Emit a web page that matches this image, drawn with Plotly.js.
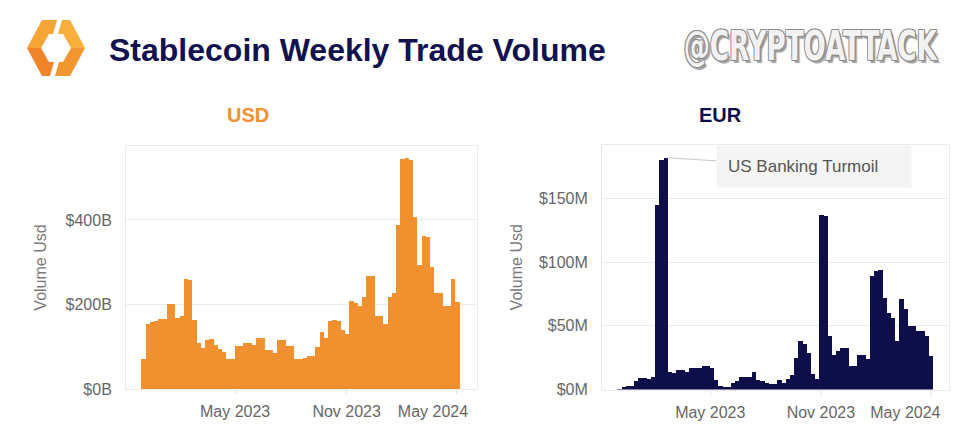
<!DOCTYPE html>
<html>
<head>
<meta charset="utf-8">
<script src="https://cdn.plot.ly/plotly-3.0.1.min.js"></script>
<style>html,body{margin:0;padding:0;background:#fff;}#chart{width:970px;height:439px;}</style>
</head>
<body>
<div id="chart"></div>
<script>
// ---- Data ----
const weekStart = '2022-12-01';           // centre of first weekly bar
const weekMs = 7 * 24 * 3600 * 1000;

// USD weekly trade volume, $B
const usdVolume = [
  70, 154, 158, 162, 165, 166, 200, 201, 167, 173,
  261, 258, 163, 110, 96, 117, 118, 104, 95, 88,
  72, 72, 101, 102, 110, 110, 105, 120, 120, 92,
  92, 86, 117, 117, 102, 101, 72, 72, 74, 77,
  77, 99, 135, 120, 161, 163, 160, 139, 131, 209,
  204, 196, 217, 267, 267, 173, 172, 155, 218, 226,
  389, 545, 547, 541, 408, 293, 362, 360, 288, 226,
  226, 196, 196, 260, 206
];

// EUR weekly trade volume, $M
const eurVolume = [
  0.5, 2, 2.5, 3, 6.6, 8.8, 8.8, 8, 10, 145,
  180, 182, 14, 13, 15, 15, 14, 16.5, 16.5, 16.5,
  18.7, 18.7, 16.5, 7.4, 2.6, 1.6, 1.6, 5, 7, 10,
  10, 10, 14, 7.4, 7, 5, 4.7, 4.7, 7.4, 5,
  8, 11, 25, 38, 36, 29, 12, 8, 137, 136,
  42, 27, 30, 32.5, 32.5, 18.8, 18.8, 27, 27, 23.8,
  89, 93, 94, 72, 60, 56, 38, 71, 63, 50,
  50, 46, 46, 42, 26.5
];

const xTickDates = ['2023-05-01', '2023-11-01', '2024-05-01'];
const xTickLabels = ['May 2023', 'Nov 2023', 'May 2024'];
const eventLabel = 'US Banking Turmoil';
const watermark = '@CRYPTOATTACK';

// ---- Styling ----
const FONT = 'Liberation Sans, Arial, Helvetica, sans-serif';
const ORANGE = '#f0902f';
const NAVY = '#0e0e4a';
const W = 970, H = 439;
const px = x => x / W;
const py = y => 1 - y / H;

const traces = [
  {type: 'bar', x0: weekStart, dx: weekMs, y: usdVolume, xaxis: 'x', yaxis: 'y',
   marker: {color: ORANGE, line: {width: 0}}, hoverinfo: 'skip'},
  {type: 'bar', x0: weekStart, dx: weekMs, y: eurVolume, xaxis: 'x2', yaxis: 'y2',
   marker: {color: NAVY, line: {width: 0}}, hoverinfo: 'skip'}
];

function xAxis(domain, range) {
  return {
    domain: domain, type: 'date', range: range,
    tickmode: 'array', tickvals: xTickDates, ticktext: xTickLabels,
    showgrid: false, zeroline: false,
    showline: true, mirror: true, linecolor: '#ebebeb', linewidth: 1,
    ticks: 'outside', ticklen: 4, tickcolor: '#e2e2e2',
    ticklabelstandoff: 4,
    tickfont: {family: FONT, size: 16, color: '#666'}
  };
}
function yAxis(domain, range, dtick, suffix, standoff) {
  return {
    domain: domain, range: range, dtick: dtick, tick0: 0,
    tickprefix: '$', ticksuffix: suffix,
    showgrid: true, gridcolor: '#ececec', gridwidth: 1,
    zeroline: false, showline: true, mirror: true, linecolor: '#ebebeb', linewidth: 1,
    ticks: '', ticklabelstandoff: 10,
    tickfont: {family: FONT, size: 16, color: '#666'},
    title: {text: 'Volume Usd', standoff: standoff, font: {family: FONT, size: 16, color: '#7a7a7a'}}
  };
}

// logo: two orange chevrons forming a hexagon ring
function poly(pts) {
  return 'M ' + pts.map(p => px(p[0]) + ' ' + py(p[1])).join(' L ') + ' Z';
}
const logo = [
  {pts: [[57,20],[42,20],[27,48],[41,48],[49,34],[53,34]], c: '#f5a436'},
  {pts: [[27,48],[42,76],[50,76],[54,62],[49,62],[41,48]], c: '#ef842a'},
  {pts: [[62,20],[70,20],[85,48],[71,48],[63,34],[58,34]], c: '#f6b03b'},
  {pts: [[85,48],[70,76],[55,76],[59,62],[63,62],[71,48]], c: '#f29632'}
];
const shapes = logo.map(s => ({
  type: 'path', xref: 'paper', yref: 'paper', path: poly(s.pts),
  fillcolor: s.c, line: {width: 0}
}));

// event annotation at the EUR peak
const peakIdx = eurVolume.indexOf(Math.max(...eurVolume));
const peakX = new Date(weekStart + 'T00:00:00Z').getTime() + peakIdx * weekMs;

const annotations = [
  {xref: 'paper', yref: 'paper', x: px(107), y: py(50), xanchor: 'left', yanchor: 'middle',
   text: 'Stablecoin Weekly Trade Volume', showarrow: false,
   font: {family: FONT, size: 32, weight: 700, color: '#12124f'}},
  {xref: 'paper', yref: 'paper', x: px(810), y: py(46), xanchor: 'center', yanchor: 'middle',
   text: watermark, showarrow: false,
   font: {family: 'DejaVu Sans Condensed, DejaVu Sans, sans-serif', size: 40, weight: 700,
          color: '#f2f2f2',
          shadow: '-1px -1px 0 #8c8c8c, 1px -1px 0 #8c8c8c, -1px 1px 0 #8c8c8c, 1px 1px 0 #8c8c8c, 3px 3px 1px #a0a0a0'}},
  {xref: 'paper', yref: 'paper', x: px(248), y: py(115), xanchor: 'center', yanchor: 'middle',
   text: 'USD', showarrow: false, font: {family: FONT, size: 20, weight: 700, color: ORANGE}},
  {xref: 'paper', yref: 'paper', x: px(720), y: py(115), xanchor: 'center', yanchor: 'middle',
   text: 'EUR', showarrow: false, font: {family: FONT, size: 20, weight: 700, color: NAVY}},
  {xref: 'x2', yref: 'y2', x: peakX, y: eurVolume[peakIdx],
   text: eventLabel, showarrow: true, arrowhead: 0, arrowwidth: 1, arrowcolor: '#c8c8c8',
   standoff: 0, ax: 148, ay: 9, bgcolor: '#f4f4f4', borderpad: 11, width: 172, align: 'left',
   font: {family: FONT, size: 17, color: '#555'}}
];

const layout = {
  width: W, height: H,
  margin: {l: 0, r: 0, t: 0, b: 0},
  paper_bgcolor: '#ffffff', plot_bgcolor: '#ffffff',
  showlegend: false, bargap: 0,
  font: {family: FONT, size: 16, color: '#666'},
  xaxis: Object.assign(xAxis([px(126), px(477)], ['2022-11-02', '2024-06-03']), {anchor: 'y'}),
  yaxis: Object.assign(yAxis([py(389), py(146)], [0, 575], 200, 'B', 14), {anchor: 'x'}),
  xaxis2: Object.assign(xAxis([px(602), px(949)], ['2022-11-02', '2024-06-01']), {anchor: 'y2'}),
  yaxis2: Object.assign(yAxis([py(389.5), py(145)], [0, 192], 50, 'M', 12), {anchor: 'x2'}),
  shapes: shapes,
  annotations: annotations
};

Plotly.newPlot('chart', traces, layout, {staticPlot: true, displayModeBar: false}).then(gd => {
  // condense the watermark text horizontally (condensed display face in the reference)
  gd.querySelectorAll('.annotation-text').forEach(t => {
    if (t.textContent === watermark) {
      const b = t.getBBox();
      const cx = b.x + b.width / 2;
      const s = Math.min(1, 254 / b.width);
      const prev = t.getAttribute('transform') || '';
      t.setAttribute('transform', prev + ' translate(' + cx + ',0) scale(' + s + ',1) translate(' + (-cx) + ',0)');
    }
  });
  // last date label sits inside the plot edge, as in the reference
  const lastLabel = xTickLabels[xTickLabels.length - 1];
  [['.xtick text', -24], ['.x2tick text', -25]].forEach(([sel, dx]) => {
    gd.querySelectorAll(sel).forEach(t => {
      if (t.textContent === lastLabel) {
        const prev = t.getAttribute('transform') || '';
        t.setAttribute('transform', prev + ' translate(' + dx + ',0)');
      }
    });
  });
});
</script>
</body>
</html>
